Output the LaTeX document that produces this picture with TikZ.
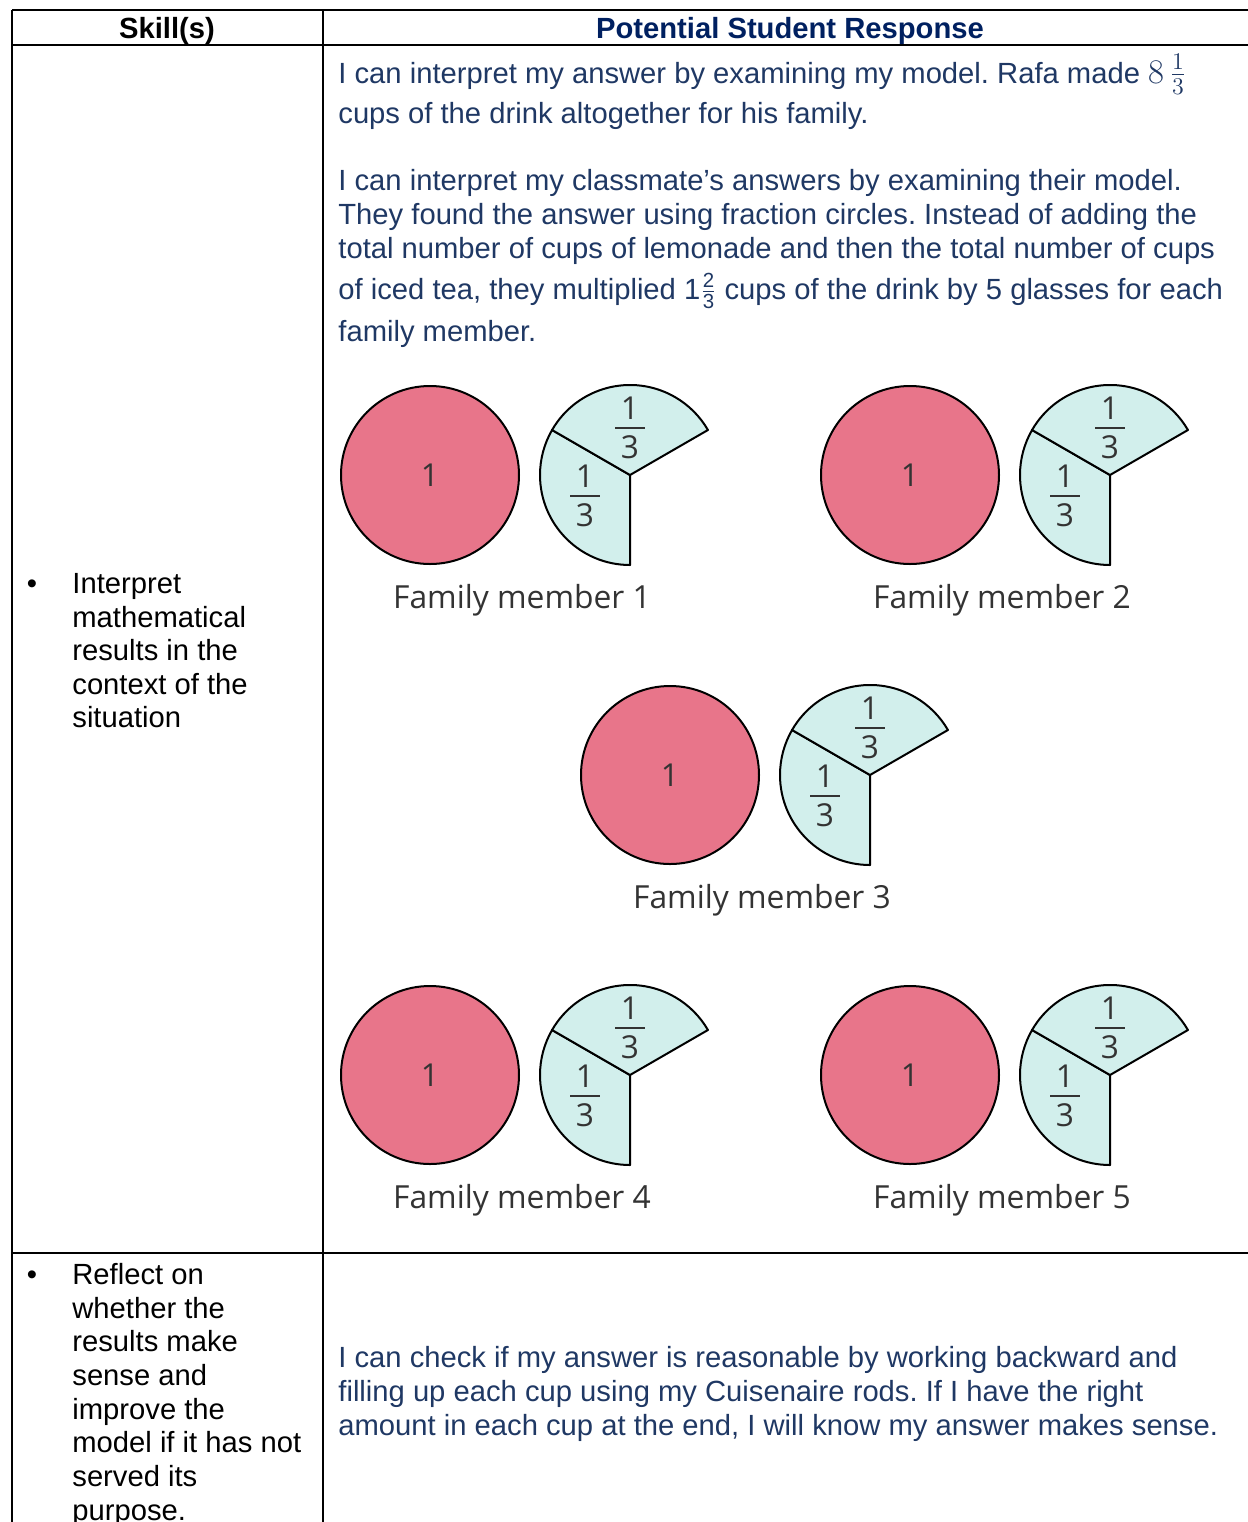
\documentclass[tikz,border=0pt]{standalone}
\usepackage{fontspec}
\setmainfont{Liberation Sans}
\newfontfamily\modelfont{Open Sans}
\usepackage{amsmath}
\frenchspacing
\definecolor{respblue}{HTML}{1F3864}
\definecolor{headblue}{HTML}{002060}
\definecolor{wholered}{HTML}{E8758A}
\definecolor{thirdcyan}{HTML}{D2EFEC}
\definecolor{modelgray}{HTML}{333333}
\tikzset{
  celltext/.style = {anchor=base west, inner sep=0pt,
    font=\fontsize{14.6}{16.8}\selectfont},
  skilltext/.style = {celltext, text=black},
  resptext/.style = {celltext, text=respblue},% student response text
  headtext/.style = {anchor=base, inner sep=0pt,
    font=\fontsize{14.6}{16.8}\selectfont\bfseries},
  tablerule/.style = {line width=1pt, black},
  whole/.style = {circle, draw=black, line width=1pt, fill=wholered,
    minimum size=89pt, inner sep=0pt, text=modelgray,
    font=\modelfont\fontsize{15.8}{18}\selectfont},% whole circle
  third/.style = {draw=black, line width=1pt, fill=thirdcyan,
    line join=round},% one third piece
  fracdigit/.style = {inner sep=0pt, text=modelgray,
    font=\modelfont\fontsize{15.8}{18}\selectfont},
  fracbar/.style = {line width=1.4pt, modelgray},
  famlabel/.style = {anchor=base, inner sep=0pt, text=modelgray,
    font=\modelfont\fontsize{15.9}{18}\selectfont}
}
% label 1/3 : name, x, y of the bar
\newcommand\thirdmark[3]{
  \draw[fracbar] (#2-15,#3) -- (#2+15,#3);
  \node[fracdigit, anchor=south] (#1num) at (#2,#3-8) {1};
  \node[fracdigit, anchor=north] (#1den) at (#2,#3+7) {3};
}
% one family member : name, x, y of the whole, number
\newcommand\familymodel[4]{
  \node[whole] (#1w) at (#2,#3) {1};
  \coordinate (#1c) at (#2+200,#3);
  \filldraw[third] (#1c) -- ++(90:90) arc[start angle=90, end angle=210, radius=90] -- cycle;
  \filldraw[third] (#1c) -- ++(210:90) arc[start angle=210, end angle=330, radius=90] -- cycle;
  \thirdmark{#1u}{#2+200}{#3-47}
  \thirdmark{#1l}{#2+155}{#3+21}
  \node[famlabel] (#1n) at (#2+92,#3+133) {Family member #4};
}

\begin{document}
\begin{tikzpicture}[x=0.5pt, y=-0.5pt]
  \clip (0,0) rectangle (1248,1522);
  % table
  \coordinate (tl) at (12,10);
  \coordinate (tr) at (1248,10);
  \coordinate (hl) at (12,45);
  \coordinate (hr) at (1248,45);
  \coordinate (rl) at (12,1253);
  \coordinate (rr) at (1248,1253);
  \coordinate (bl) at (12,1522);
  \coordinate (ct) at (323,10);
  \coordinate (cb) at (323,1522);
  \draw[tablerule] (tl) -- (tr);
  \draw[tablerule] (hl) -- (hr);
  \draw[tablerule] (rl) -- (rr);
  \draw[tablerule] (tl) -- (bl);
  \draw[tablerule] (ct) -- (cb);
  % header
  \node[headtext] (skillhead) at (167,38) {Skill(s)};
  \node[headtext, text=headblue] (resphead) at (790,38) {Potential Student Response};
  % skills
  \node[skilltext, anchor=base] (bulletA) at (32,593) {\textbullet};
  \foreach \ypos/\txt [count=\i] in {593/Interpret, 627/mathematical,
      660/results in the, 694/context of the, 727/situation}
    \node[skilltext] (skillA\i) at (72,\ypos) {\txt};
  \node[skilltext, anchor=base] (bulletB) at (32,1284) {\textbullet};
  \foreach \ypos/\txt [count=\i] in {1284/Reflect on, 1318/whether the,
      1351/results make, 1385/sense and, 1419/improve the,
      1452/model if it has not, 1486/served its, 1520/purpose.}
    \node[skilltext] (skillB\i) at (72,\ypos) {\txt};
  % responses
  \foreach \ypos/\txt [count=\i] in {
      83/{I can interpret my answer by examining my model. Rafa made {\fontsize{17.5}{18}\selectfont$8\,\frac{1}{3}$}},
      123/{cups of the drink altogether for his family.},
      190/{I can interpret my classmate’s answers by examining their model.},
      224/{They found the answer using fraction circles. Instead of adding the},
      258/{total number of cups of lemonade and then the total number of cups},
      299/{of iced tea, they multiplied $\text{1}\frac{\text{2}}{\text{3}}$ cups of the drink by 5 glasses for each},
      341/{family member.},
      1367/{I can check if my answer is reasonable by working backward and},
      1401/{filling up each cup using my Cuisenaire rods. If I have the right},
      1435/{amount in each cup at the end, I will know my answer makes sense.}}
    \node[resptext] (resp\i) at (338,\ypos) {\txt};
  % fraction circles
  \familymodel{fa}{430}{475}{1}
  \familymodel{fb}{910}{475}{2}
  \familymodel{fc}{670}{775}{3}
  \familymodel{fd}{430}{1075}{4}
  \familymodel{fe}{910}{1075}{5}
\end{tikzpicture}
\end{document}
